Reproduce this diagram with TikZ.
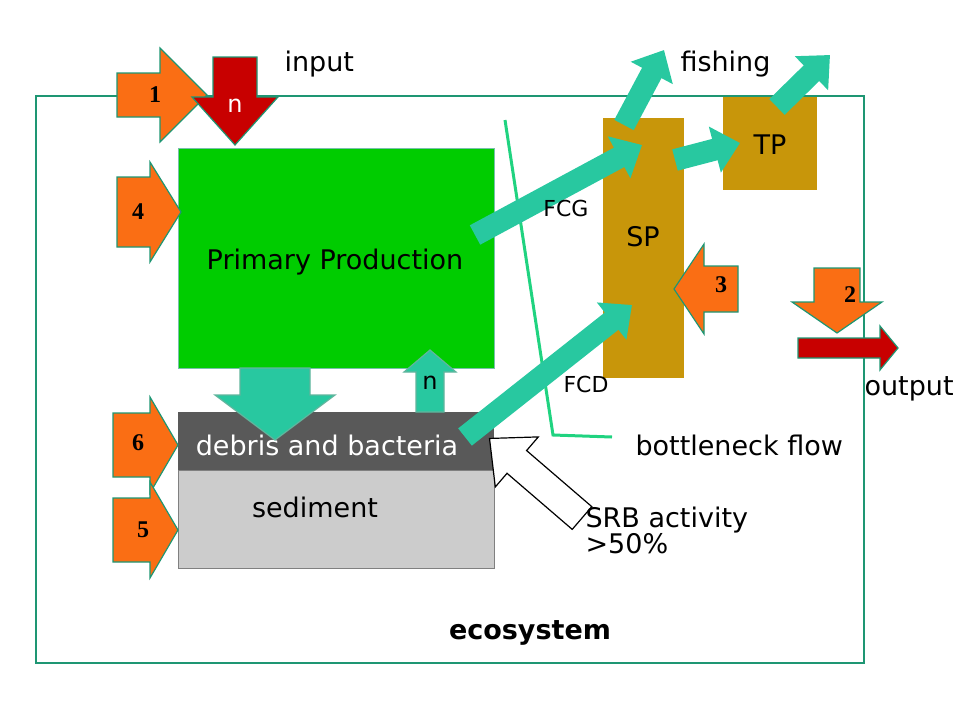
\documentclass[tikz,border=0pt]{standalone}
\usepackage{fontspec}
\setmainfont{DejaVu Sans}
\newfontfamily\numfont{Liberation Serif}
\usetikzlibrary{arrows.meta}
\definecolor{frame}{RGB}{30,150,115}
\definecolor{teal}{RGB}{40,200,160}
\definecolor{orng}{RGB}{250,110,20}
\definecolor{dred}{RGB}{200,0,0}
\definecolor{pgreen}{RGB}{0,204,0}
\definecolor{gold}{RGB}{200,150,10}
% #1 style, #2 name, #3 x, #4 y (tail centre), #5 angle, #6 length, #7 body half, #8 head half, #9 head length
\newcommand\blockar[9]{%
\coordinate (#2) at (#3,#4);
\begin{scope}[shift={(#3,#4)},rotate=#5]
\draw[#1] (0,-#7)--(#6-#9,-#7)--(#6-#9,-#8)--(#6,0)--(#6-#9,#8)--(#6-#9,#7)--(0,#7)--cycle;
\end{scope}}
\begin{document}
\begin{tikzpicture}[x=1pt,y=-1pt,
  blk/.style={draw=frame,line width=1.2pt,line join=miter},
  org/.style={blk,fill=orng},
  num/.style={font=\numfont\bfseries\fontsize{24}{24}\selectfont},
  fat/.style={draw=teal,line width=22pt,-{Triangle[width=46pt,length=26pt]}},
  lbl/.style={font=\fontsize{27}{30}\selectfont,align=left},
  sm/.style={font=\fontsize{22}{24}\selectfont}]
\useasboundingbox (0,0) rectangle (960,720);
\node[draw=frame,line width=1.5pt,minimum width=828pt,minimum height=567pt,anchor=north west] (eco) at (35,95) {};
% boxes
\node[draw=frame!60,fill=pgreen,minimum width=316pt,minimum height=220pt,anchor=north west] (pp) at (178,148) {};
\node[font=\fontsize{27}{30}\selectfont] (ppt) at (335,262) {Primary Production};
\node[draw=gray,fill=gray!40,minimum width=316pt,minimum height=98pt,anchor=north west] (sed) at (178,470) {};
\node[fill=black!65,minimum width=316pt,minimum height=58pt,anchor=north west] (deb) at (178,412) {};
\node[text=white,font=\fontsize{27}{30}\selectfont] (debt) at (327,445) {debris and bacteria};
\node[font=\fontsize{27}{30}\selectfont] (sedt) at (315,507) {sediment};
\node[fill=gold,minimum width=81pt,minimum height=260pt,anchor=north west] (sp) at (603,118) {};
\node[font=\fontsize{27}{30}\selectfont] (spt) at (643,237) {SP};
\node[fill=gold,minimum width=94pt,minimum height=93pt,anchor=north west] (tp) at (723,97) {};
\node[font=\fontsize{27}{30}\selectfont] (tpt) at (770,145) {TP};
% bottleneck line
\coordinate (b1) at (505,120); \coordinate (b2) at (553,435); \coordinate (b3) at (612,437);
\draw[teal!80!green,line width=3pt] (b1) -- (b2) -- (b3);
% teal arrows
\coordinate (g1) at (475,235); \coordinate (g2) at (642,145);
\draw[fat] (g1) -- (g2);
\coordinate (d1) at (465,437); \coordinate (d2) at (632,305);
\draw[fat] (d1) -- (d2);
\coordinate (s1) at (675,160); \coordinate (s2) at (740,143);
\draw[fat] (s1) -- (s2);
\coordinate (f1) at (624,125); \coordinate (f2) at (664,50);
\draw[fat] (f1) -- (f2);
\coordinate (t1) at (777,107); \coordinate (t2) at (830,55);
\draw[fat] (t1) -- (t2);
\blockar{blk,draw=frame!70,fill=teal}{big}{275}{368}{-90}{72}{35}{60}{45}
\blockar{blk,draw=frame!70,fill=teal}{nup}{430}{412}{90}{62}{14}{26}{22}
\node[font=\fontsize{24}{26}\selectfont] (nupt) at (430,383) {n};
% orange numbered arrows
\blockar{org}{a1}{117}{95}{0}{90}{22}{47}{47}
\node[num] at (155,95) {1};
\blockar{blk,fill=dred}{nin}{235}{57}{-90}{88}{22}{43}{48}
\node[text=white,font=\fontsize{24}{26}\selectfont] (nint) at (235,106) {n};
\blockar{org}{a4}{117}{212}{0}{64}{35}{50}{31}
\node[num] at (138,212) {4};
\blockar{org}{a6}{113}{445}{0}{65}{32}{48}{28}
\node[num] at (138,443) {6};
\blockar{org}{a5}{113}{530}{0}{65}{32}{48}{28}
\node[num] at (143,530) {5};
\blockar{org}{a3}{738}{289}{180}{64}{23}{45}{30}
\node[num] at (721,285) {3};
\blockar{org}{a2}{837}{268}{-90}{65}{23}{45}{31}
\node[num] at (850,295) {2};
\blockar{blk,fill=dred}{out}{798}{348}{0}{100}{10}{22}{18}
% SRB hollow arrow
\blockar{draw=black,line width=1.2pt,fill=white}{srb}{582}{518}{139.3}{122}{15}{33}{36}
% labels
\node[lbl,anchor=west] (inp) at (281,64) {input};
\node[lbl,anchor=west] (fish) at (677,64) {fishing};
\node[sm] (fcg) at (566,208) {FCG};
\node[sm] (fcd) at (586,384) {FCD};
\node[lbl,anchor=west] (outp) at (861,389) {output};
\node[lbl,anchor=west] (bn) at (632,445) {bottleneck flow};
\node[lbl,anchor=north west] (srbt) at (582,503) {SRB activity\\[-4pt]>50\%};
\node[font=\bfseries\fontsize{27}{30}\selectfont] (ecot) at (530,633) {ecosystem};
\end{tikzpicture}
\end{document}
